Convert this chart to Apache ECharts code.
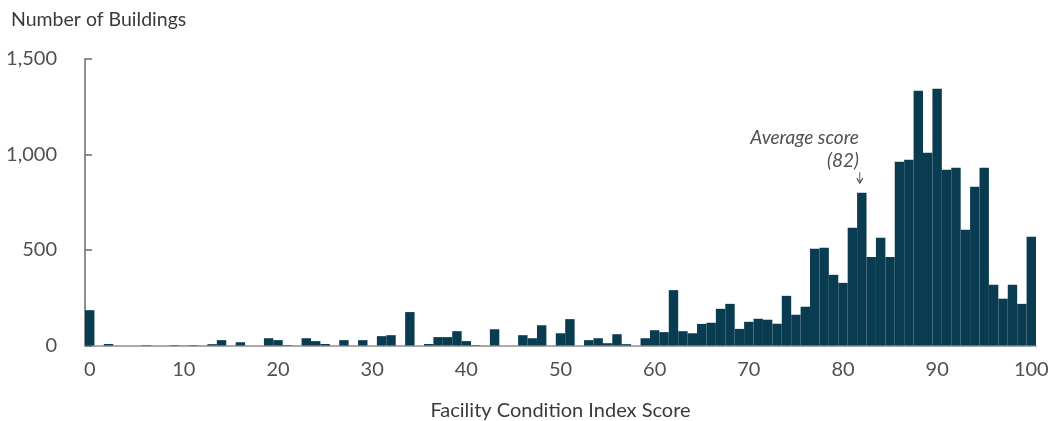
<!DOCTYPE html>
<html>
<head>
<meta charset="utf-8">
<script src="https://cdn.jsdelivr.net/npm/echarts@6/dist/echarts.min.js"></script>
<style>
  html, body { margin: 0; padding: 0; background: #fff; }
  #chart { width: 1048px; height: 421px; }
</style>
</head>
<body>
<div id="chart"></div>
<script>
// Facility Condition Index score (0..100), one bar per score
const scores = [
  0, 1, 2, 3, 4, 5, 6, 7, 8, 9,
  10, 11, 12, 13, 14, 15, 16, 17, 18, 19,
  20, 21, 22, 23, 24, 25, 26, 27, 28, 29,
  30, 31, 32, 33, 34, 35, 36, 37, 38, 39,
  40, 41, 42, 43, 44, 45, 46, 47, 48, 49,
  50, 51, 52, 53, 54, 55, 56, 57, 58, 59,
  60, 61, 62, 63, 64, 65, 66, 67, 68, 69,
  70, 71, 72, 73, 74, 75, 76, 77, 78, 79,
  80, 81, 82, 83, 84, 85, 86, 87, 88, 89,
  90, 91, 92, 93, 94, 95, 96, 97, 98, 99,
  100
];

// Number of buildings per score
const buildings = [
  185, 0, 8, 0, 0, 0, 2, 0, 0, 2,
  0, 2, 0, 7, 28, 0, 17, 0, 0, 38,
  28, 2, 0, 38, 23, 8, 0, 28, 0, 28,
  0, 49, 54, 0, 175, 0, 8, 44, 44, 75,
  23, 2, 0, 85, 0, 0, 54, 38, 106, 0,
  64, 138, 0, 28, 38, 12, 59, 7, 0, 38,
  80, 70, 290, 75, 64, 113, 119, 192, 218, 87,
  124, 140, 135, 114, 260, 161, 203, 506, 512, 370,
  328, 616, 800, 464, 564, 464, 962, 972, 1334, 1009,
  1344, 920, 930, 606, 831, 930, 318, 245, 318, 218,
  569
];

const yTicks = [0, 500, 1000, 1500];

const avgScore = 82;

const COLORS = {
  bar: '#093c51',
  text: '#3a3a3a',
  axis: '#505050',
  axisLine: '#6a6a6a',
  baseline: '#8f8f8f'
};

const FONT = 'Lato';

const chart = echarts.init(document.getElementById('chart'), null, { renderer: 'canvas' });

const option = {
  animation: false,
  backgroundColor: '#ffffff',
  title: {
    text: 'Number of Buildings',
    left: 6,
    top: 5,
    textStyle: {
      fontFamily: FONT,
      fontSize: 19.5,
      fontWeight: 'normal',
      color: COLORS.text
    }
  },
  grid: {
    left: 85,
    right: 12,
    top: 59,
    bottom: 75.5,
    containLabel: false,
    outerBoundsMode: 'none'
  },
  xAxis: {
    type: 'category',
    data: scores.map(String),
    boundaryGap: true,
    name: 'Facility Condition Index Score',
    nameLocation: 'middle',
    nameGap: 55,
    nameTextStyle: {
      fontFamily: FONT,
      fontSize: 20,
      color: COLORS.text
    },
    axisLine: { show: true, lineStyle: { color: COLORS.baseline, width: 1.5 } },
    axisTick: { show: false },
    axisLabel: {
      interval: 9,
      margin: 14,
      fontFamily: FONT,
      fontSize: 20,
      color: COLORS.axis
    },
    splitLine: { show: false }
  },
  yAxis: {
    type: 'value',
    min: yTicks[0],
    max: yTicks[yTicks.length - 1],
    interval: 500,
    axisLine: { show: true, lineStyle: { color: COLORS.axisLine, width: 1.5 } },
    axisTick: { show: true, inside: true, length: 7, lineStyle: { color: COLORS.axisLine, width: 1.5 } },
    axisLabel: {
      margin: 28,
      fontFamily: FONT,
      fontSize: 20,
      color: COLORS.axis,
      formatter: (v) => v.toLocaleString('en-US')
    },
    splitLine: { show: false }
  },
  series: [
    {
      type: 'bar',
      data: buildings,
      barCategoryGap: '0%',
      barGap: '0%',
      itemStyle: { color: COLORS.bar },
      silent: true,
      markPoint: {
        silent: true,
        data: [
          {
            coord: [String(avgScore), buildings[avgScore]],
            symbol: 'path://M3,0 L3,9 M0,6 L3,11 L6,6',
            symbolSize: [6, 11],
            symbolOffset: [-2, -15],
            itemStyle: { color: 'none', borderColor: '#444', borderWidth: 1.2 },
            label: {
              show: true,
              position: [4, 4],
              align: 'right',
              verticalAlign: 'bottom',
              formatter: 'Average score\n(82)',
              fontFamily: FONT,
              fontStyle: 'italic',
              fontSize: 19,
              lineHeight: 23,
              color: COLORS.axis
            }
          }
        ]
      }
    }
  ]
};

chart.setOption(option);
</script>
</body>
</html>
